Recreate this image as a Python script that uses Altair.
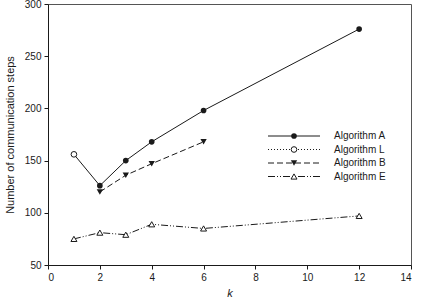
import altair as alt
import pandas as pd

# Data
k_a = [1, 2, 3, 4, 6, 12]
steps_a = [156, 126, 150, 168, 198, 276]
k_l = [1]
steps_l = [156]
k_b = [2, 3, 4, 6]
steps_b = [120, 136, 147, 168]
k_e = [1, 2, 3, 4, 6, 12]
steps_e = [75, 81, 79, 89, 85, 97]

series_names = ["Algorithm A", "Algorithm L", "Algorithm B", "Algorithm E"]

FONT = "Liberation Sans"
INK = "#1a1a1a"

df_a = pd.DataFrame({"k": k_a, "steps": steps_a})
df_l = pd.DataFrame({"k": k_l, "steps": steps_l})
df_b = pd.DataFrame({"k": k_b, "steps": steps_b})
df_e = pd.DataFrame({"k": k_e, "steps": steps_e})

xs = alt.Scale(domain=[0, 14], nice=False, zero=False)
ys = alt.Scale(domain=[50, 300], nice=False, zero=False)

X = alt.X("k:Q", scale=xs, title="k",
          axis=alt.Axis(values=list(range(0, 15, 2)), titleFontStyle="italic"))
Y = alt.Y("steps:Q", scale=ys, title="Number of communication steps",
          axis=alt.Axis(values=list(range(50, 301, 50))))


def line(df, dash):
    kw = dict(color=INK, strokeWidth=1)
    if dash:
        kw["strokeDash"] = dash
    return alt.Chart(df).mark_line(**kw).encode(x=X, y=Y)


def pts(df, shape, filled, size=30):
    return alt.Chart(df).mark_point(
        shape=shape, filled=filled, size=size, color=INK,
        fill=INK if filled else "white", strokeWidth=1, opacity=1
    ).encode(x=X, y=Y)


dash_b = [6, 3]
dash_e = [7, 2, 1, 2, 1, 2]
dash_l = [1, 2]

layers = [
    line(df_a, None),
    line(df_b, dash_b),
    line(df_e, dash_e),
    pts(df_a[df_a["k"] >= 2], "circle", True, 32),
    pts(df_l, "circle", False, 32),
    pts(df_b, "triangle-down", True, 40),
    pts(df_e, "triangle-up", False, 36),
]

# Manual legend
leg_rows = [
    (series_names[0], None, "circle", True, 32, 132),
    (series_names[1], dash_l, "circle", False, 32, 145.5),
    (series_names[2], dash_b, "triangle-down", True, 40, 159),
    (series_names[3], dash_e, "triangle-up", False, 36, 172.5),
]
leg_df = pd.DataFrame({"name": series_names})
for name, dash, shape, filled, sz, yy in leg_rows:
    d = leg_df[leg_df["name"] == name]
    rk = dict(color=INK, strokeWidth=1)
    if dash:
        rk["strokeDash"] = dash
    layers.append(alt.Chart(d).mark_rule(**rk).encode(
        x=alt.value(220), x2=alt.value(272), y=alt.value(yy)))
    layers.append(alt.Chart(d).mark_point(
        shape=shape, filled=filled, size=sz, color=INK,
        fill=INK if filled else "white", opacity=1, strokeWidth=1
    ).encode(x=alt.value(246), y=alt.value(yy)))
    layers.append(alt.Chart(d).mark_text(
        align="left", baseline="middle", font=FONT, fontSize=10, color=INK
    ).encode(x=alt.value(286), y=alt.value(yy), text="name:N"))

chart = alt.layer(*layers).properties(
    width=363, height=261,
    autosize=alt.AutoSizeParams(type="none"),
    padding={"left": 48, "top": 4, "right": 13, "bottom": 33},
).configure_view(
    stroke="#555555", strokeWidth=1
).configure_axis(
    grid=False, labelFont=FONT, titleFont=FONT, labelFontSize=10,
    titleFontSize=11, titleFontWeight="normal", labelColor=INK,
    titleColor=INK, domainColor=INK, tickColor=INK, tickSize=4,
    labelPadding=3
).configure_axisY(
    titlePadding=9
).configure_axisX(
    titlePadding=5
)

chart.save("out.html", embed_options={"renderer": "svg", "actions": False})
